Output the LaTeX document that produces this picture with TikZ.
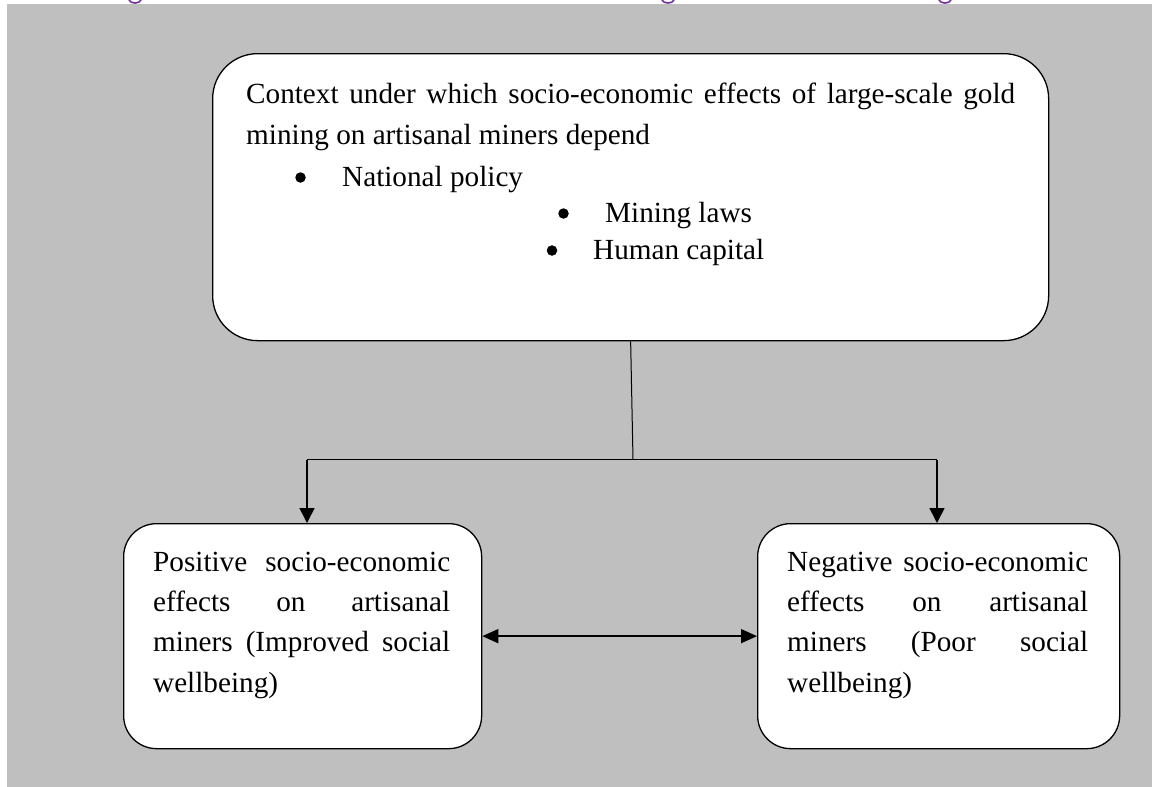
\documentclass[tikz,border=0pt]{standalone}
\usepackage{fontspec}
\setmainfont{Liberation Serif}
\usetikzlibrary{arrows.meta}
\setlength\parindent{0pt}
\hyphenpenalty=10000
\exhyphenpenalty=10000
\tolerance=10000
\hbadness=10000
\definecolor{bggray}{HTML}{BFBFBF}
\definecolor{titlepurple}{HTML}{7030A0}
\newcommand{\nohyph}{\hyphenpenalty=10000 \exhyphenpenalty=10000 \tolerance=10000 \relax}
\begin{document}
\begin{tikzpicture}[x=1pt,y=-1pt,
  box/.style={draw=black, line width=1.3pt, fill=white, anchor=north west, inner sep=0pt},
  bigtxt/.style={inner sep=0pt, anchor=north west, align=justify,
     font=\fontsize{29.2}{41}\selectfont},
  smalltxt/.style={inner sep=0pt, anchor=north west, align=justify,
     font=\fontsize{29.2}{40.4}\selectfont},
  itemtxt/.style={inner sep=0pt, anchor=base west, font=\fontsize{29.2}{35}\selectfont},
  bulletdot/.style={circle, fill=black, inner sep=0pt, minimum size=10.5pt},
  conn/.style={line width=1.6pt},
  thinconn/.style={line width=1pt},
  arr/.style={conn, -{Triangle[length=15pt,width=15pt]}},
  darr/.style={conn, {Triangle[length=16pt,width=14pt]}-{Triangle[length=16pt,width=14pt]}}
]
\useasboundingbox (0,0) rectangle (1152,787);
\fill[white] (0,0) rectangle (1152,787);
\fill[bggray] (7,4) rectangle (1152,787);
% fragments of a cut-off title above the picture
\foreach \gx in {135,668,945}
  \draw[titlepurple, line width=1.6pt] (\gx-6,0) .. controls (\gx-5,4) and (\gx+5,4) .. (\gx+6,0);

% top box
\node[box, rounded corners=45pt, minimum width=836pt, minimum height=287pt] (ctx) at (212,53) {};
\node[bigtxt, text width=769pt] (ctxtext) at (246,74.3)
  {\nohyph\strut Context under which socio-economic effects of large-scale gold\linebreak mining on artisanal miners depend};
\node[bulletdot] (b1) at (300.5,177.5) {};
\node[itemtxt] (i1) at (342,186) {National policy};
\node[bulletdot] (b2) at (563.5,213.5) {};
\node[itemtxt] (i2) at (605,222) {Mining laws};
\node[bulletdot] (b3) at (552,250.5) {};
\node[itemtxt] (i3) at (593,259) {Human capital};

% lower boxes
\node[box, rounded corners=33pt, minimum width=358pt, minimum height=225pt] (pos) at (123,523) {};
\node[smalltxt, text width=297pt] (postext) at (153,542.7)
  {\nohyph\strut Positive socio-economic\linebreak effects on artisanal\linebreak miners (Improved social\linebreak wellbeing)};
\node[box, rounded corners=33pt, minimum width=362pt, minimum height=225pt] (neg) at (757,523) {};
\node[smalltxt, text width=301pt] (negtext) at (787,542.7)
  {\nohyph\strut Negative socio-economic\linebreak effects on artisanal\linebreak miners (Poor social\linebreak wellbeing)};

% connectors
\coordinate (j) at (633,459.5);
\coordinate (cl) at (307,459.5);
\coordinate (cr) at (937,459.5);
\draw[thinconn] (ctx.south) -- (j);
\draw[conn] (cl) -- (cr);
\draw[arr] (cl) -- (cl |- pos.north);
\draw[arr] (cr) -- (cr |- neg.north);
\draw[darr] (pos.east) -- (neg.west);
\end{tikzpicture}
\end{document}
